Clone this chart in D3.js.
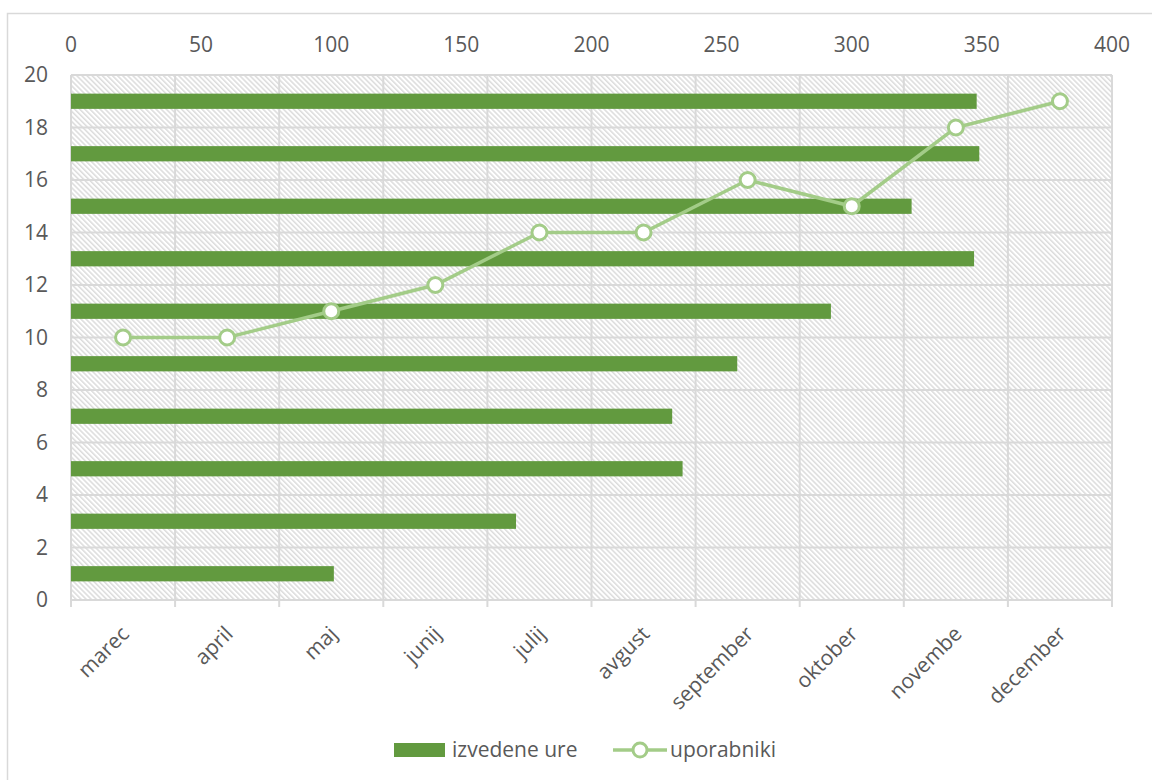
<!DOCTYPE html>
<html>
  <head>
    <title>izvedene ure / uporabniki</title>
    <style>
      body {margin:0; background:#fff;}
      svg {display:block;}
      text {font-family:"Open Sans", sans-serif; fill:#595959;}
      .ticklabel {font-size:21px;}
      .legend {font-size:21px;}
    </style>
    <script src="https://cdn.jsdelivr.net/npm/d3@7"></script>
  </head>
  <body>
    <svg id="chart" width="1152" height="780"></svg>
    <script>
      // data
      var months = ["marec","april","maj","junij","julij","avgust","september","oktober","novembe","december"];
      var hours  = [101, 171, 235, 231, 256, 292, 347, 323, 349, 348];
      var users  = [10, 10, 11, 12, 14, 14, 16, 15, 18, 19];
      var hourTicks = [0, 50, 100, 150, 200, 250, 300, 350, 400];
      var userTicks = [0, 2, 4, 6, 8, 10, 12, 14, 16, 18, 20];

      var barColor  = "#629a3f";
      var lineColor = "#a3cc88";
      var gridColor = "#d9d9d9";

      var margin = {top: 75, left: 71, right: 40, bottom: 180};
      var width  = 1152, height = 780;
      var plotW  = width - margin.left - margin.right;
      var plotH  = height - margin.top - margin.bottom;

      var svg = d3.select("#chart");

      // outer frame
      svg.append("rect")
         .attr("x", 7.5).attr("y", 13.5)
         .attr("width", 1160).attr("height", 800)
         .attr("fill", "none").attr("stroke", gridColor).attr("stroke-width", 1.5);

      var xVal = d3.scaleLinear().domain([0, 400]).range([margin.left, margin.left + plotW]);
      var yVal = d3.scaleLinear().domain([0, 20]).range([margin.top + plotH, margin.top]);
      var xCat = d3.scaleBand().domain(months).range([margin.left, margin.left + plotW]);
      var yCat = d3.scaleBand().domain(months).range([margin.top + plotH, margin.top]);

      // hatch pattern
      var defs = svg.append("defs");
      var pat = defs.append("pattern")
         .attr("id", "hatch")
         .attr("patternUnits", "userSpaceOnUse")
         .attr("width", 3.6).attr("height", 3.6)
         .attr("patternTransform", "rotate(-45)");
      pat.append("line")
         .attr("x1", 0.8).attr("y1", 0).attr("x2", 0.8).attr("y2", 3.6)
         .attr("stroke", "#d2d2d2").attr("stroke-width", 1.2);

      svg.append("rect")
         .attr("x", margin.left).attr("y", margin.top)
         .attr("width", plotW).attr("height", plotH)
         .attr("fill", "url(#hatch)");

      // horizontal gridlines
      svg.append("g").selectAll("line")
         .data(userTicks).enter().append("line")
         .attr("x1", margin.left).attr("x2", margin.left + plotW)
         .attr("y1", function(d) {return yVal(d);})
         .attr("y2", function(d) {return yVal(d);})
         .attr("stroke", gridColor).attr("stroke-width", 2);

      // vertical gridlines + ticks at category boundaries
      var bounds = months.map(function(m) {return xCat(m);}).concat([margin.left + plotW]);
      svg.append("g").selectAll("line")
         .data(bounds).enter().append("line")
         .attr("x1", function(d) {return d;}).attr("x2", function(d) {return d;})
         .attr("y1", margin.top).attr("y2", margin.top + plotH + 7)
         .attr("stroke", gridColor).attr("stroke-width", 2);

      // bars
      var barH = yCat.bandwidth() * 0.29;
      svg.append("g").selectAll("rect")
         .data(hours).enter().append("rect")
         .attr("x", xVal(0))
         .attr("y", function(d, i) {return yCat(months[i]) + yCat.bandwidth()/2 - barH/2;})
         .attr("width", function(d) {return xVal(d) - xVal(0);})
         .attr("height", barH)
         .attr("fill", barColor);

      // line
      var line = d3.line()
         .x(function(d, i) {return xCat(months[i]) + xCat.bandwidth()/2;})
         .y(function(d) {return yVal(d);});
      svg.append("path")
         .datum(users)
         .attr("d", line)
         .attr("fill", "none").attr("stroke", lineColor).attr("stroke-width", 3.5);
      svg.append("g").selectAll("circle")
         .data(users).enter().append("circle")
         .attr("cx", function(d, i) {return xCat(months[i]) + xCat.bandwidth()/2;})
         .attr("cy", function(d) {return yVal(d);})
         .attr("r", 7.5)
         .attr("fill", "#fff").attr("stroke", lineColor).attr("stroke-width", 3);

      // top value axis labels
      svg.append("g").selectAll("text")
         .data(hourTicks).enter().append("text")
         .attr("class", "ticklabel")
         .attr("x", function(d) {return xVal(d);})
         .attr("y", 45)
         .attr("dy", "0.35em")
         .attr("text-anchor", "middle")
         .text(function(d) {return d;});

      // left axis labels
      svg.append("g").selectAll("text")
         .data(userTicks).enter().append("text")
         .attr("class", "ticklabel")
         .attr("x", 48)
         .attr("y", function(d) {return yVal(d);})
         .attr("dy", "0.35em")
         .attr("text-anchor", "end")
         .text(function(d) {return d;});

      // bottom category labels
      svg.append("g").selectAll("text")
         .data(months).enter().append("text")
         .attr("class", "ticklabel")
         .attr("transform", function(d) {
           return "translate(" + (xCat(d) + xCat.bandwidth()/2 + 2) + "," + 630 + ") rotate(-45)";
         })
         .attr("dy", "0.35em")
         .attr("text-anchor", "end")
         .text(function(d) {return d;});

      // legend
      var lg = svg.append("g");
      lg.append("rect").attr("x", 394).attr("y", 743).attr("width", 51).attr("height", 14).attr("fill", barColor);
      lg.append("text").attr("class", "legend").attr("x", 452).attr("y", 750).attr("dy", "0.35em").text("izvedene ure");
      lg.append("line").attr("x1", 613).attr("x2", 667).attr("y1", 750).attr("y2", 750)
        .attr("stroke", lineColor).attr("stroke-width", 3.5);
      lg.append("circle").attr("cx", 640).attr("cy", 750).attr("r", 7).attr("fill", "#fff")
        .attr("stroke", lineColor).attr("stroke-width", 3);
      lg.append("text").attr("class", "legend").attr("x", 670).attr("y", 750).attr("dy", "0.35em").text("uporabniki");
    </script>
  </body>
</html>
